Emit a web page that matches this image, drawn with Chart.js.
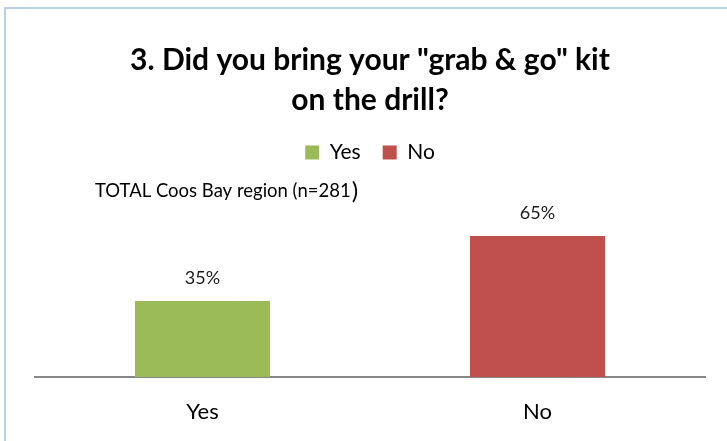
<!DOCTYPE html>
<html>
<head>
<meta charset="utf-8">
<script src="https://cdn.jsdelivr.net/npm/chart.js@4.4.1/dist/chart.umd.min.js"></script>
<style>
  html, body { margin: 0; padding: 0; background: #ffffff; }
  #wrap { width: 727px; height: 441px; }
</style>
</head>
<body>
<div id="wrap"><canvas id="c" width="727" height="441"></canvas></div>
<script>
const categories = ['Yes', 'No'];
const percentValues = [35, 65];
const barColors = ['#9BBB59', '#C0504D'];
const titleLines = ['3. Did you bring your "grab & go" kit', 'on the drill?'];
const sampleNote = 'TOTAL Coos Bay region (n=281';
const sampleNoteClose = ')';

const FONT = 'Lato, "Open Sans", sans-serif';

// Light blue frame along the top and left edges
const framePlugin = {
  id: 'frame',
  beforeDraw(chart) {
    const ctx = chart.ctx;
    ctx.save();
    ctx.strokeStyle = '#bcd0ea';
    ctx.lineWidth = 2;
    ctx.beginPath();
    ctx.moveTo(5, 441);
    ctx.lineTo(5, 8);
    ctx.lineTo(727, 8);
    ctx.stroke();
    ctx.restore();
  }
};

// Region / sample size note under the legend
const notePlugin = {
  id: 'note',
  afterDraw(chart) {
    const ctx = chart.ctx;
    ctx.save();
    ctx.fillStyle = '#000000';
    ctx.textBaseline = 'alphabetic';
    ctx.textAlign = 'left';
    ctx.font = '18.5px ' + FONT;
    const x0 = 95, base = 197;
    ctx.fillText(sampleNote, x0, base);
    const w = ctx.measureText(sampleNote).width;
    ctx.font = '24px ' + FONT;
    ctx.fillText(sampleNoteClose, x0 + w + 1, base + 2);
    ctx.restore();
  }
};

// Percentage labels above each bar
const valueLabelPlugin = {
  id: 'valueLabels',
  afterDatasetsDraw(chart) {
    const ctx = chart.ctx;
    const meta = chart.getDatasetMeta(0);
    ctx.save();
    ctx.fillStyle = '#1a1a1a';
    ctx.font = '18px ' + FONT;
    ctx.textAlign = 'center';
    ctx.textBaseline = 'middle';
    meta.data.forEach((bar, i) => {
      const v = chart.data.datasets[0].data[i];
      ctx.fillText(v + '%', bar.x, bar.y - 23);
    });
    ctx.restore();
  }
};

new Chart(document.getElementById('c'), {
  type: 'bar',
  data: {
    labels: categories,
    datasets: [{
      label: 'Share',
      data: percentValues,
      backgroundColor: barColors,
      borderWidth: 0,
      categoryPercentage: 1,
      barPercentage: 0.403
    }]
  },
  options: {
    responsive: false,
    animation: false,
    devicePixelRatio: 1,
    layout: { padding: { top: 0, left: 35, right: 22, bottom: 16 } },
    plugins: {
      title: {
        display: true,
        text: titleLines,
        color: '#000000',
        font: { family: FONT, size: 30, weight: 'bold', lineHeight: 1.333 },
        padding: { top: 40, bottom: 0 }
      },
      legend: {
        display: true,
        position: 'top',
        labels: {
          color: '#000000',
          font: { family: FONT, size: 21 },
          boxWidth: 14,
          boxHeight: 14,
          padding: 22,
          generateLabels() {
            return categories.map((c, i) => ({
              text: c,
              fillStyle: barColors[i],
              strokeStyle: barColors[i],
              lineWidth: 0,
              hidden: false,
              index: i
            }));
          }
        },
        onClick: null
      },
      tooltip: { enabled: false }
    },
    scales: {
      x: {
        grid: { display: false, drawTicks: false },
        border: { display: true, color: '#878787', width: 2 },
        ticks: { color: '#000000', font: { family: FONT, size: 22 }, padding: 22 },
        afterFit(scale) { scale.height = 48; }
      },
      y: {
        display: false,
        min: 0,
        max: 94
      }
    }
  },
  plugins: [framePlugin, notePlugin, valueLabelPlugin]
});
</script>
</body>
</html>
